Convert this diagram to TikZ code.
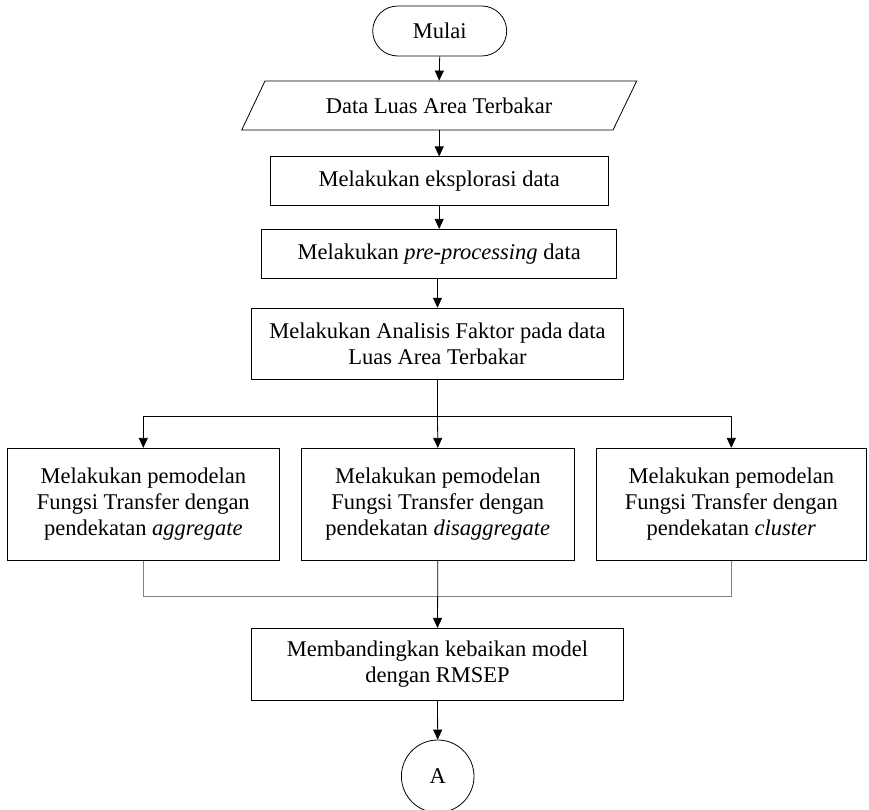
\documentclass[tikz,border=0pt]{standalone}
\usepackage{fontspec}
\setmainfont{Liberation Serif}
\usetikzlibrary{arrows.meta}
\begin{document}
\begin{tikzpicture}[x=1pt,y=-1pt,
  font=\fontsize{22.5}{26}\selectfont,
  line width=0.8pt,
  arr/.style={-{Triangle[length=10pt,width=9pt]}},
  box/.style={draw,rectangle,align=center,inner sep=0pt},
  lbl/.style={rectangle,align=center,inner sep=0pt}]
\useasboundingbox (0,0) rectangle (869,810);
% start
\node[draw,rectangle,rounded corners=25pt,minimum width=134pt,minimum height=50pt,inner sep=0pt] (mulai) at (439.7,31) {Mulai};
% parallelogram
\node[lbl,minimum width=372pt,minimum height=49pt] (data) at (439.1,105.5) {Data Luas Area Terbakar};
\draw (265,81) -- (636.7,81) -- (613,130) -- (241.7,130) -- cycle;
\node[box,minimum width=338pt,minimum height=49pt] (b1) at (439.2,181.3) {Melakukan eksplorasi data};
\node[box,minimum width=355pt,minimum height=49pt] (b2) at (439.2,253.8) {Melakukan \textit{pre-processing} data};
\node[box,minimum width=371.6pt,minimum height=71.7pt] (b3) at (437.5,344) {Melakukan Analisis Faktor pada data\\Luas Area Terbakar};
\node[box,minimum width=272pt,minimum height=112.4pt] (left) at (143.3,504.5) {Melakukan pemodelan\\Fungsi Transfer dengan\\pendekatan \textit{aggregate}};
\node[box,minimum width=272.3pt,minimum height=112.4pt] (mid) at (437.8,504.5) {Melakukan pemodelan\\Fungsi Transfer dengan\\pendekatan \textit{disaggregate}};
\node[box,minimum width=270.7pt,minimum height=112.4pt] (right) at (731.3,504.5) {Melakukan pemodelan\\Fungsi Transfer dengan\\pendekatan \textit{cluster}};
\node[box,minimum width=371.6pt,minimum height=71.7pt] (cmp) at (437.5,664.2) {Membandingkan kebaikan model\\dengan RMSEP};
\node[draw,circle,minimum size=72.6pt,inner sep=0pt] (A) at (437.7,776.3) {A};
% connectors
\coordinate (br) at (437.5,416.7);
\coordinate (mg) at (437.5,596);
\draw[arr] (mulai.south) -- (data.north);
\draw[arr] (data.south -| b1.north) -- (b1.north);
\draw[arr] (b1.south) -- (b2.north -| b1.south);
\draw[arr] (b2.south -| b3.north) -- (b3.north);
\draw (b3.south) -- (br);
\draw[arr] (br) -| (left.north);
\draw[arr] (br) -| (right.north);
\draw[arr] (br) -- (mid.north);
\draw[gray] (left.south) |- (mg);
\draw[gray] (right.south) |- (mg);
\draw[arr] (mid.south) -- (cmp.north);
\draw[arr] (cmp.south) -- (A.north);
\end{tikzpicture}
\end{document}
